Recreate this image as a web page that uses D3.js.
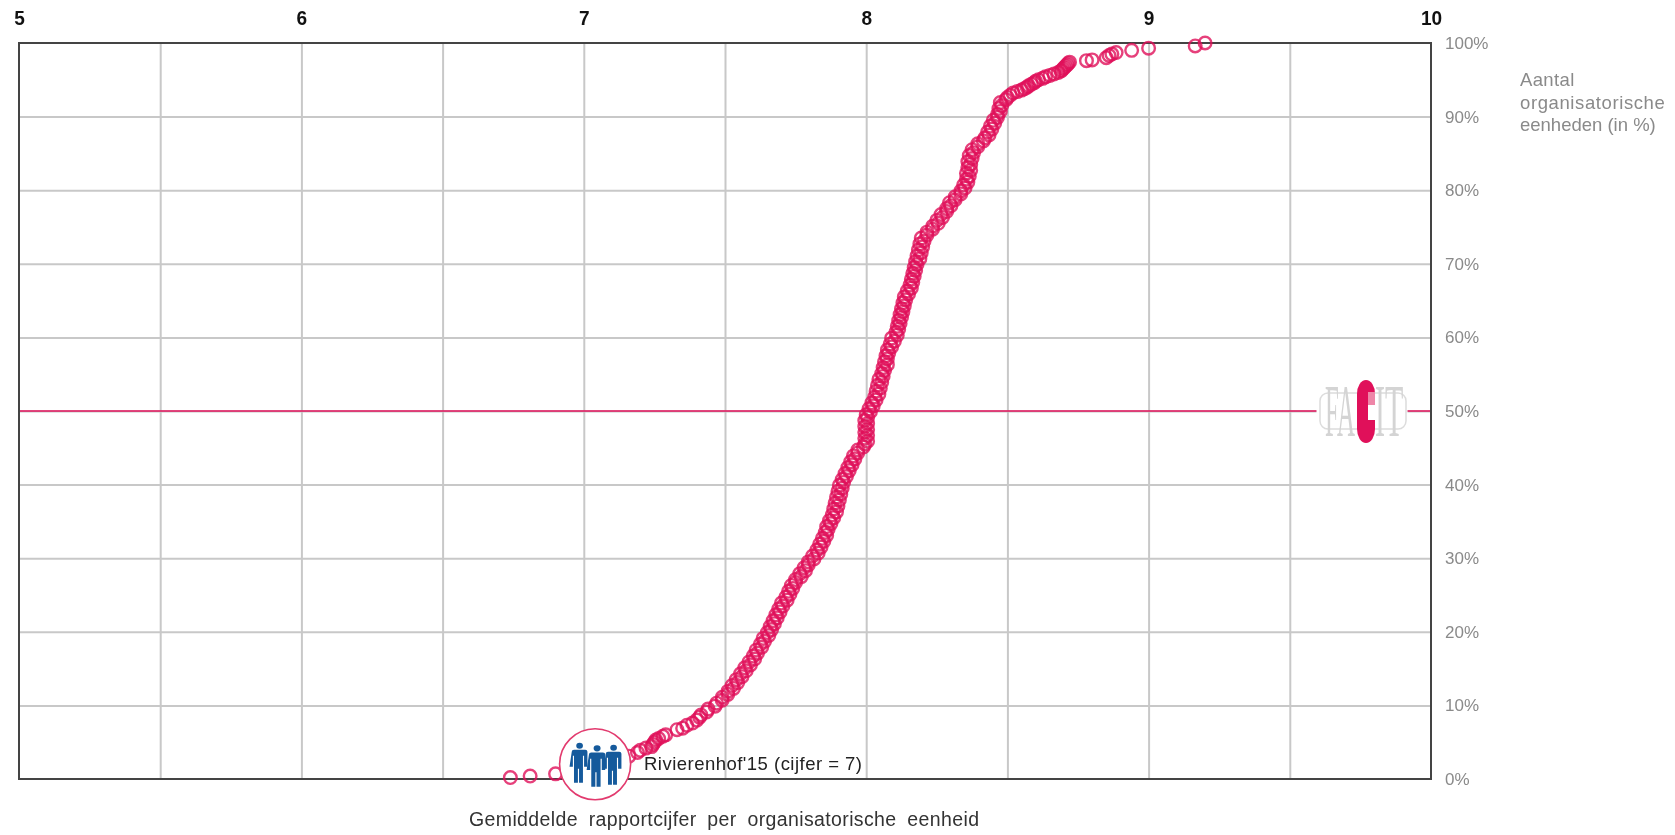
<!DOCTYPE html>
<html>
<head>
<meta charset="utf-8">
<script src="https://cdnjs.cloudflare.com/ajax/libs/d3/7.8.5/d3.min.js"></script>
<style>
  body { margin: 0; background: #fff; }
  svg { display: block; font-family: "Liberation Sans", Arial, sans-serif; filter: blur(0.45px); }
</style>
</head>
<body>
<div id="chart"></div>
<script>
// values, one ring per organisational unit
var scores = [
  6.74, 6.81, 6.90, 7.16, 7.19, 7.20, 7.22, 7.24, 7.245, 7.25,
  7.255, 7.265, 7.28, 7.29, 7.33, 7.35, 7.365, 7.385, 7.40, 7.41,
  7.415, 7.435, 7.44, 7.465, 7.47, 7.49, 7.49, 7.51, 7.51, 7.53,
  7.525, 7.545, 7.54, 7.56, 7.555, 7.575, 7.57, 7.59, 7.585, 7.605,
  7.60, 7.615, 7.61, 7.63, 7.625, 7.64, 7.635, 7.655, 7.65, 7.665,
  7.66, 7.675, 7.67, 7.685, 7.68, 7.695, 7.69, 7.705, 7.70, 7.72,
  7.715, 7.73, 7.725, 7.74, 7.735, 7.75, 7.75, 7.77, 7.765, 7.785,
  7.78, 7.795, 7.795, 7.815, 7.81, 7.83, 7.825, 7.84, 7.835, 7.85,
  7.845, 7.86, 7.855, 7.865, 7.86, 7.875, 7.87, 7.885, 7.88, 7.895,
  7.885, 7.90, 7.89, 7.905, 7.895, 7.91, 7.90, 7.915, 7.905, 7.92,
  7.915, 7.93, 7.925, 7.94, 7.935, 7.95, 7.945, 7.96, 7.955, 7.97,
  7.97, 7.99, 7.995, 8.005, 7.995, 8.005, 7.995, 8.005, 7.995, 8.005,
  7.995, 8.005, 8.00, 8.015, 8.01, 8.025, 8.02, 8.035, 8.03, 8.045,
  8.035, 8.05, 8.04, 8.055, 8.045, 8.06, 8.055, 8.065, 8.06, 8.075,
  8.065, 8.075, 8.07, 8.08, 8.075, 8.09, 8.085, 8.10, 8.09, 8.11,
  8.105, 8.115, 8.11, 8.12, 8.115, 8.125, 8.12, 8.13, 8.125, 8.135,
  8.13, 8.14, 8.135, 8.15, 8.145, 8.16, 8.155, 8.165, 8.16, 8.17,
  8.165, 8.175, 8.17, 8.18, 8.175, 8.19, 8.18, 8.195, 8.185, 8.20,
  8.19, 8.205, 8.195, 8.215, 8.215, 8.235, 8.235, 8.255, 8.25, 8.27,
  8.265, 8.285, 8.285, 8.30, 8.295, 8.315, 8.315, 8.335, 8.335, 8.35,
  8.345, 8.36, 8.355, 8.365, 8.355, 8.37, 8.36, 8.37, 8.36, 8.375,
  8.365, 8.38, 8.375, 8.395, 8.395, 8.415, 8.42, 8.435, 8.43, 8.445,
  8.44, 8.455, 8.45, 8.465, 8.465, 8.475, 8.47, 8.48, 8.475, 8.495,
  8.50, 8.51, 8.52, 8.535, 8.55, 8.56, 8.57, 8.575, 8.585, 8.595,
  8.60, 8.61, 8.625, 8.635, 8.65, 8.665, 8.68, 8.69, 8.695, 8.70,
  8.705, 8.71, 8.715, 8.72, 8.78, 8.80, 8.85, 8.86, 8.87, 8.885,
  8.94, 9.00, 9.165, 9.20
]
var percents = [
  0.2, 0.4, 0.7, 3.1, 3.6, 3.9, 4.2, 4.4, 4.7, 5.0,
  5.3, 5.5, 5.8, 6.0, 6.7, 6.9, 7.3, 7.6, 8.0, 8.4,
  8.7, 9.1, 9.5, 9.9, 10.3, 10.7, 11.1, 11.5, 11.9, 12.3,
  12.7, 13.1, 13.5, 13.9, 14.3, 14.7, 15.1, 15.5, 15.9, 16.3,
  16.7, 17.1, 17.5, 17.9, 18.3, 18.7, 19.1, 19.5, 19.9, 20.3,
  20.7, 21.1, 21.5, 21.9, 22.3, 22.7, 23.1, 23.5, 23.9, 24.3,
  24.7, 25.1, 25.5, 25.9, 26.3, 26.7, 27.1, 27.5, 27.9, 28.3,
  28.7, 29.1, 29.5, 29.9, 30.3, 30.7, 31.1, 31.5, 31.9, 32.3,
  32.7, 33.1, 33.5, 33.9, 34.3, 34.7, 35.1, 35.5, 35.9, 36.3,
  36.7, 37.1, 37.5, 37.9, 38.3, 38.7, 39.1, 39.5, 39.9, 40.3,
  40.7, 41.1, 41.5, 41.9, 42.3, 42.7, 43.1, 43.5, 43.9, 44.3,
  44.7, 45.1, 45.5, 45.9, 46.3, 46.7, 47.1, 47.5, 47.9, 48.3,
  48.7, 49.1, 49.5, 49.9, 50.3, 50.7, 51.1, 51.5, 51.9, 52.3,
  52.7, 53.1, 53.5, 53.9, 54.3, 54.7, 55.1, 55.5, 55.9, 56.3,
  56.7, 57.1, 57.5, 57.9, 58.3, 58.7, 59.1, 59.5, 59.9, 60.3,
  60.7, 61.1, 61.5, 61.9, 62.3, 62.7, 63.1, 63.5, 63.9, 64.3,
  64.7, 65.1, 65.5, 65.9, 66.3, 66.7, 67.1, 67.5, 67.9, 68.3,
  68.7, 69.1, 69.5, 69.9, 70.3, 70.7, 71.1, 71.5, 71.9, 72.3,
  72.7, 73.1, 73.5, 73.9, 74.3, 74.7, 75.1, 75.5, 75.9, 76.3,
  76.7, 77.1, 77.5, 77.9, 78.3, 78.7, 79.1, 79.5, 79.9, 80.3,
  80.7, 81.1, 81.5, 81.9, 82.3, 82.7, 83.1, 83.5, 83.9, 84.3,
  84.7, 85.1, 85.5, 85.9, 86.3, 86.7, 87.1, 87.5, 87.9, 88.3,
  88.7, 89.1, 89.5, 89.9, 90.3, 90.7, 91.1, 91.5, 91.9, 92.3,
  92.6, 92.9, 93.2, 93.4, 93.6, 93.8, 94.0, 94.2, 94.4, 94.6,
  94.8, 95.0, 95.2, 95.4, 95.6, 95.8, 96.0, 96.2, 96.4, 96.6,
  96.8, 97.0, 97.2, 97.4, 97.6, 97.7, 98.0, 98.3, 98.5, 98.7,
  99.0, 99.3, 99.6, 100
]
var scoreTicks = [5, 6, 7, 8, 9, 10]
var scoreGrid = [5.5, 6, 6.5, 7, 7.5, 8, 8.5, 9, 9.5]
var percentTicks = [0, 10, 20, 30, 40, 50, 60, 70, 80, 90, 100]
var medianPercent = 50
var ownScore = 7.04
var ownPercent = 2
var ownLabel = "Rivierenhof'15 (cijfer = 7)"
var xTitle = "Gemiddelde rapportcijfer per organisatorische eenheid"
var yTitle = ["Aantal", "organisatorische", "eenheden (in %)"]

var red = "#e0105a"

var margin = { top: 43, right: 244, bottom: 56, left: 19 },
  width = 1675 - margin.left - margin.right,
  height = 835 - margin.top - margin.bottom;

var svg = d3.select("#chart").append("svg")
  .attr("width", 1675)
  .attr("height", 835)
  .append("g")
  .attr("transform", "translate(" + margin.left + "," + margin.top + ")");

var x = d3.scaleLinear().domain([5, 10]).range([0, width]);
var y = d3.scaleLinear().domain([0, 100]).range([height, 0]);

// grid
svg.append("g")
  .attr("class", "grid-x")
  .attr("transform", "translate(0," + height + ")")
  .call(d3.axisBottom(x).tickValues(scoreGrid).tickSize(-height).tickFormat(""))
  .call(g => g.select(".domain").remove());

svg.append("g")
  .attr("class", "grid-y")
  .call(d3.axisLeft(y).tickValues(percentTicks.slice(1, -1)).tickSize(-width).tickFormat(""))
  .call(g => g.select(".domain").remove());

svg.selectAll(".grid-x line, .grid-y line")
  .attr("stroke", "#c8c8c8")
  .attr("stroke-width", 2);

// 50% line
svg.append("line")
  .attr("x1", 0)
  .attr("x2", width)
  .attr("y1", y(medianPercent))
  .attr("y2", y(medianPercent))
  .attr("stroke", red)
  .attr("stroke-width", 1.5);

// frame
svg.append("rect")
  .attr("width", width)
  .attr("height", height)
  .attr("fill", "none")
  .attr("stroke", "#444")
  .attr("stroke-width", 2);

// top axis
svg.append("g")
  .call(d3.axisTop(x).tickValues(scoreTicks).tickSize(0).tickPadding(18).tickFormat(d3.format("d")))
  .call(g => g.select(".domain").remove())
  .selectAll("text")
  .attr("font-family", "'Liberation Sans', Arial, sans-serif")
  .attr("font-size", 21)
  .attr("font-weight", "bold")
  .attr("fill", "#111")
  .attr("textLength", d => String(d).length * 10.6)
  .attr("lengthAdjust", "spacingAndGlyphs");

// right axis
svg.append("g")
  .attr("transform", "translate(" + width + ",0)")
  .call(d3.axisRight(y).tickValues(percentTicks).tickSize(0).tickPadding(14).tickFormat(d => d + "%"))
  .call(g => g.select(".domain").remove())
  .selectAll("text")
  .attr("font-family", "'Liberation Sans', Arial, sans-serif")
  .attr("font-size", 17)
  .attr("fill", "#8a8a8a");

// right title
svg.append("g").selectAll("text")
  .data(yTitle)
  .enter()
  .append("text")
  .attr("x", width + 89)
  .attr("y", (d, i) => 43 + i * 22.5)
  .attr("font-size", 18.5)
  .attr("fill", "#8a8a8a")
  .attr("textLength", d => d.length * 9.05)
  .text(d => d);

// bottom title
svg.append("text")
  .attr("x", 450)
  .attr("y", 783)
  .attr("font-size", 19.5)
  .attr("fill", "#333")
  .style("word-spacing", "5px")
  .attr("textLength", 510)
  .text(xTitle);

// rings, thick enough that the dense part closes up like the original
svg.append("g").selectAll("circle")
  .data(scores)
  .enter()
  .append("circle")
  .attr("cx", d => x(d))
  .attr("cy", (d, i) => y(percents[i]))
  .attr("r", 6.3)
  .attr("fill", "none")
  .attr("stroke", red)
  .attr("stroke-width", 2.4)
  .attr("stroke-opacity", 0.8);

// own score marker with the three people
var own = svg.append("g")
  .attr("transform", "translate(" + x(ownScore) + "," + y(ownPercent) + ")");

own.append("circle")
  .attr("r", 35.5)
  .attr("fill", "#fff")
  .attr("stroke", "#e23a6e")
  .attr("stroke-width", 1.6);

var people = [[-15.5, -18.5, 1], [2, -16, 1.04], [18.5, -16.5, 1]];
own.selectAll("path")
  .data(people)
  .enter()
  .append("path")
  .attr("transform", d => "translate(" + d[0] + "," + d[1] + ") scale(" + (d[2] * 1.12) + "," + d[2] + ")")
  .attr("fill", "#155a9c")
  .attr("d", "M-3,0a3,3 0 1,1 6,0a3,3 0 1,1 -6,0Z M-7,6q0,-2 2,-2h10q2,0 2,2v15h-3v-11h-1v27h-3.5v-14h-1v14h-3.5v-27h-1v11h-3Z");

svg.append("text")
  .attr("x", 625)
  .attr("y", 727)
  .attr("font-size", 18.5)
  .attr("fill", "#222")
  .attr("textLength", 218)
  .text(ownLabel);

// logo sits on a white patch over the 50% line
var logo = svg.append("g")
  .attr("transform", "translate(" + (x(10) - 65) + "," + y(medianPercent) + ")");

logo.append("rect")
  .attr("x", -49.5)
  .attr("y", -32)
  .attr("width", 91)
  .attr("height", 64)
  .attr("fill", "#fff");

logo.append("rect")
  .attr("x", -46)
  .attr("y", -18)
  .attr("width", 86)
  .attr("height", 36)
  .attr("rx", 8)
  .attr("fill", "none")
  .attr("stroke", "#dcdcdc")
  .attr("stroke-width", 1.5);

logo.selectAll("text")
  .data([["FA", -41, 0.83], ["IT", 9, 1]])
  .enter()
  .append("text")
  .attr("transform", d => "translate(" + d[1] + ",25) scale(" + d[2] + ",2.5)")
  .attr("font-family", "'Liberation Serif', serif")
  .attr("font-size", 30)
  .attr("fill", "#d4d4d4")
  .text(d => d[0]);

logo.append("rect")
  .attr("x", -9)
  .attr("y", -31)
  .attr("width", 18)
  .attr("height", 63)
  .attr("rx", 9)
  .attr("ry", 14)
  .attr("fill", red);

logo.append("rect")
  .attr("x", 2)
  .attr("y", -19)
  .attr("width", 7)
  .attr("height", 13)
  .attr("fill", "#ee86a8");

logo.append("rect")
  .attr("x", 2)
  .attr("y", -6)
  .attr("width", 8)
  .attr("height", 15)
  .attr("fill", "#fff");
</script>
</body>
</html>
